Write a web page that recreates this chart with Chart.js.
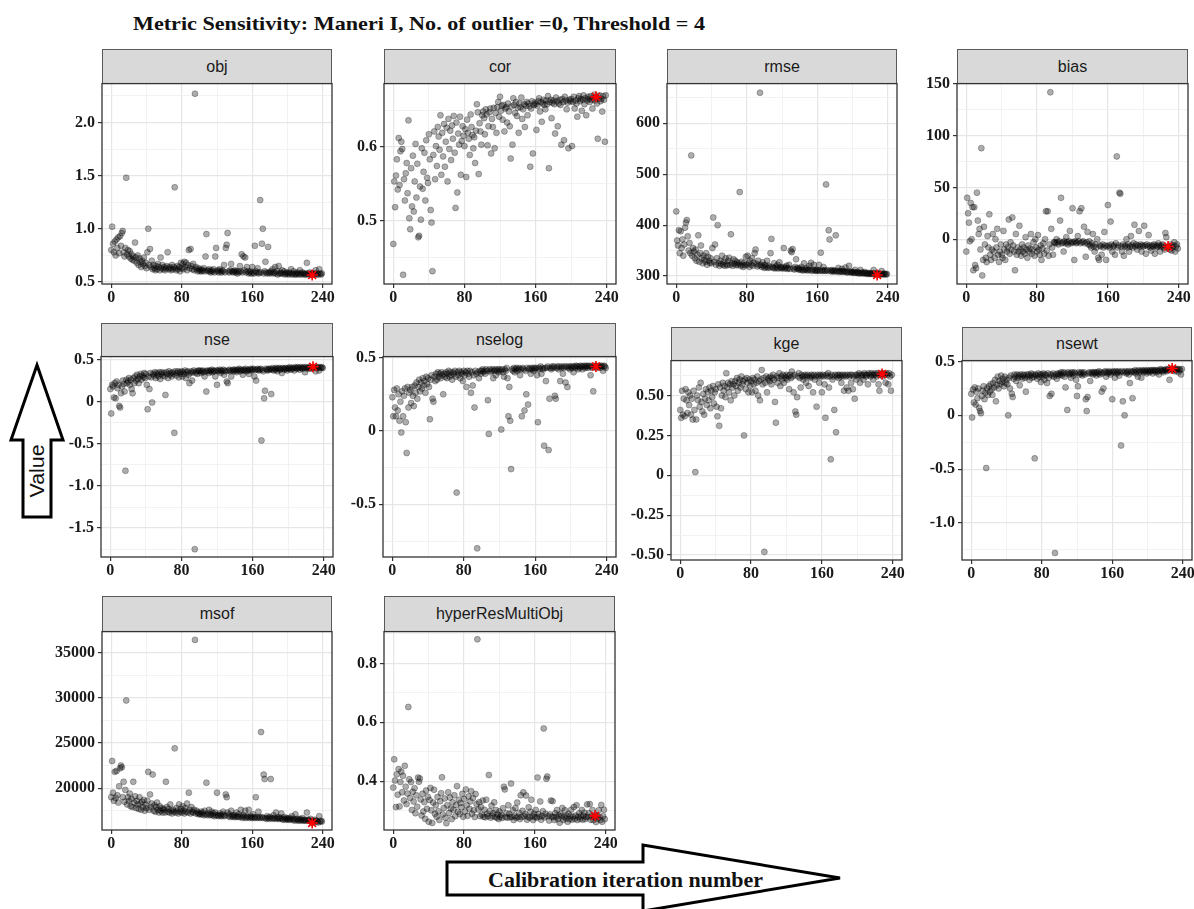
<!DOCTYPE html>
<html>
<head>
<meta charset="utf-8">
<title>Metric Sensitivity</title>
<script src="https://cdn.jsdelivr.net/npm/chart.js@4.4.1/dist/chart.umd.min.js"></script>
<style>
  body { margin: 0; background: #fff; }
  #page { position: relative; width: 1194px; height: 909px; overflow: hidden; }
  .strip {
    position: absolute; box-sizing: border-box;
    background: #d9d9d9; border: 1px solid #595959;
    font: 16px "Liberation Sans", Arial, sans-serif; color: #1a1a1a;
    display: flex; align-items: center; justify-content: center;
  }
  canvas.panel { position: absolute; }
  svg { position: absolute; left: 0; top: 0; }
</style>
</head>
<body>
<div id="page">
  <svg width="1194" height="909">
    <text x="133" y="30" font-family="Liberation Serif, serif" font-weight="bold" font-size="19"
          textLength="572" lengthAdjust="spacingAndGlyphs" fill="#111">Metric Sensitivity: Maneri I, No. of outlier =0, Threshold = 4</text>
    <polygon points="37,365 63,440 51,440 51,517 23,517 23,440 11,440"
             fill="#fff" stroke="#000" stroke-width="3" stroke-linejoin="miter"/>
    <text x="0" y="0" transform="translate(44,471) rotate(-90)" text-anchor="middle"
          font-family="Liberation Sans, Arial, sans-serif" font-size="21" textLength="53"
          lengthAdjust="spacingAndGlyphs" fill="#111">Value</text>
    <polygon points="447,862 643,862 643,845 840,878 643,911 643,895 447,895"
             fill="#fff" stroke="#000" stroke-width="3" stroke-linejoin="miter"/>
    <text x="488" y="887" font-family="Liberation Serif, serif" font-weight="bold" font-size="20"
          textLength="275" lengthAdjust="spacingAndGlyphs" fill="#111">Calibration iteration number</text>
  </svg>
</div>
<script>
// iteration with the best objective (red star)
const bestIter = 228;

const objValues = [
  0.80, 1.02, 0.86, 0.78, 0.88, 0.75, 0.90, 0.82, 0.92, 0.77, 0.93, 0.84, 0.96, 0.98, 0.78, 0.74, 0.82, 1.48, 0.76, 0.80,
  0.74, 0.79, 0.72, 0.76, 0.71, 0.74, 0.70, 0.87, 0.73, 0.68, 0.75, 0.66, 0.72, 0.69, 0.64, 0.70, 0.67, 0.73, 0.65, 0.68,
  0.63, 0.78, 1.00, 0.66, 0.81, 0.64, 0.70, 0.62, 0.66, 0.63, 0.61, 0.65, 0.62, 0.67, 0.64, 0.61, 0.73, 0.63, 0.66, 0.62,
  0.64, 0.61, 0.63, 0.65, 0.78, 0.62, 0.64, 0.63, 0.61, 0.66, 0.62, 0.64, 1.39, 0.63, 0.61, 0.65, 0.62, 0.64, 0.60, 0.68,
  0.63, 0.67, 0.62, 0.69, 0.64, 0.68, 0.61, 0.66, 0.80, 0.63, 0.81, 0.65, 0.62, 0.67, 0.61, 2.27, 0.64, 0.62, 0.60, 0.63,
  0.61, 0.60, 0.62, 0.60, 0.61, 0.63, 0.60, 0.74, 0.95, 0.61, 0.60, 0.62, 0.60, 0.59, 0.61, 0.60, 0.62, 0.59, 0.74, 0.82,
  0.60, 0.61, 0.59, 0.62, 0.60, 0.59, 0.61, 0.60, 0.66, 0.59, 0.82, 0.85, 0.96, 0.60, 0.59, 0.61, 0.67, 0.60, 0.59, 0.60,
  0.61, 0.59, 0.60, 0.58, 0.60, 0.59, 0.65, 0.60, 0.76, 0.59, 0.74, 0.61, 0.73, 0.59, 0.64, 0.60, 0.58, 0.59, 0.60, 0.58,
  0.64, 0.59, 0.58, 0.84, 0.60, 0.59, 0.63, 0.58, 0.59, 1.27, 0.59, 0.86, 1.00, 0.58, 0.60, 0.69, 0.59, 0.58, 0.83, 0.59,
  0.58, 0.60, 0.59, 0.62, 0.58, 0.59, 0.64, 0.58, 0.60, 0.57, 0.65, 0.58, 0.59, 0.58, 0.61, 0.58, 0.60, 0.57, 0.58, 0.59,
  0.58, 0.57, 0.59, 0.58, 0.62, 0.57, 0.58, 0.60, 0.57, 0.58, 0.57, 0.59, 0.58, 0.57, 0.61, 0.58, 0.57, 0.59, 0.58, 0.57,
  0.58, 0.57, 0.68, 0.58, 0.57, 0.59, 0.57, 0.58, 0.565, 0.58, 0.57, 0.58, 0.61, 0.57, 0.58, 0.57, 0.62, 0.58, 0.57, 0.58
];

const corValues = [
  0.468, 0.553, 0.518, 0.561, 0.583, 0.542, 0.612, 0.548, 0.594, 0.607, 0.597, 0.426, 0.556, 0.527, 0.564, 0.578, 0.537, 0.636, 0.503, 0.488,
  0.571, 0.519, 0.588, 0.512, 0.553, 0.604, 0.531, 0.577, 0.477, 0.479, 0.546, 0.501, 0.598, 0.543, 0.566, 0.592, 0.527, 0.609, 0.558, 0.551,
  0.617, 0.583, 0.514, 0.497, 0.431, 0.589, 0.621, 0.556, 0.601, 0.574, 0.627, 0.614, 0.596, 0.643, 0.562, 0.619, 0.587, 0.631, 0.573, 0.607,
  0.626, 0.553, 0.638, 0.597, 0.622, 0.582, 0.629, 0.611, 0.642, 0.592, 0.517, 0.633, 0.538, 0.618, 0.603, 0.641, 0.562, 0.608, 0.628, 0.615,
  0.601, 0.624, 0.559, 0.637, 0.619, 0.611, 0.589, 0.644, 0.627, 0.616, 0.598, 0.613, 0.578, 0.622, 0.658, 0.647, 0.563, 0.632, 0.621, 0.603,
  0.643, 0.648, 0.639, 0.617, 0.651, 0.644, 0.602, 0.628, 0.647, 0.652, 0.591, 0.638, 0.627, 0.653, 0.598, 0.646, 0.619, 0.654, 0.661, 0.641,
  0.668, 0.649, 0.656, 0.637, 0.657, 0.621, 0.652, 0.654, 0.633, 0.659, 0.648, 0.628, 0.584, 0.655, 0.603, 0.666, 0.657, 0.646, 0.661, 0.642,
  0.653, 0.619, 0.659, 0.654, 0.667, 0.638, 0.651, 0.658, 0.627, 0.656, 0.661, 0.643, 0.659, 0.655, 0.573, 0.652, 0.662, 0.591, 0.657, 0.660,
  0.658, 0.623, 0.656, 0.662, 0.666, 0.648, 0.661, 0.634, 0.659, 0.664, 0.657, 0.651, 0.663, 0.658, 0.669, 0.571, 0.661, 0.664, 0.639, 0.660,
  0.663, 0.658, 0.618, 0.667, 0.662, 0.628, 0.659, 0.664, 0.657, 0.603, 0.665, 0.661, 0.609, 0.668, 0.663, 0.651, 0.660, 0.598, 0.664, 0.662,
  0.665, 0.601, 0.661, 0.668, 0.652, 0.663, 0.659, 0.641, 0.666, 0.669, 0.662, 0.665, 0.649, 0.664, 0.670, 0.658, 0.666, 0.643, 0.663, 0.668,
  0.665, 0.661, 0.669, 0.664, 0.652, 0.666, 0.671, 0.663, 0.668, 0.659, 0.611, 0.666, 0.670, 0.662, 0.665, 0.648, 0.669, 0.664, 0.607, 0.670
];

const rmseValues = [
  427, 370, 360, 390, 345, 388, 355, 372, 340, 362, 395, 405, 410, 378, 350, 365, 345, 537, 340, 355,
  348, 335, 352, 330, 342, 380, 328, 345, 360, 335, 325, 340, 332, 328, 345, 322, 338, 330, 326, 335,
  325, 355, 415, 328, 362, 322, 335, 400, 325, 320, 330, 324, 340, 322, 328, 320, 335, 323, 321, 330,
  336, 322, 382, 325, 320, 333, 324, 330, 321, 327, 322, 325, 465, 320, 328, 322, 318, 326, 321, 338,
  322, 340, 325, 318, 330, 322, 335, 320, 326, 345, 352, 324, 319, 330, 321, 660, 322, 318, 327, 320,
  316, 322, 318, 330, 316, 320, 317, 345, 373, 318, 316, 325, 315, 319, 316, 322, 315, 327, 318, 316,
  315, 318, 355, 315, 317, 320, 314, 316, 322, 314, 350, 347, 353, 315, 313, 318, 333, 314, 316, 313,
  315, 312, 318, 313, 311, 325, 313, 312, 316, 311, 313, 320, 312, 326, 310, 313, 322, 311, 312, 310,
  312, 311, 322, 310, 346, 312, 310, 318, 311, 310, 480, 312, 310, 390, 372, 311, 309, 312, 310, 309,
  311, 380, 309, 310, 316, 308, 310, 309, 314, 308, 310, 309, 317, 308, 307, 309, 320, 308, 307, 309,
  307, 308, 306, 312, 307, 306, 308, 306, 305, 312, 306, 307, 305, 306, 308, 305, 306, 304, 306, 305,
  304, 306, 305, 304, 312, 305, 304, 306, 302, 304, 305, 303, 304, 310, 304, 303, 305, 304, 303, 304
];

const biasValues = [
  -12, 40, 25, 16, -2, 35, 0, 31, -30, 31, -25, -28, 45, 18, 5, 10, -10, 88, -35, -20,
  12, -5, -18, -22, 3, -8, 24, -15, -20, -10, 5, -12, -18, 0, -8, 10, -15, -22, -12, -5,
  -15, -18, 8, -10, -20, -5, -12, -8, 19, -14, -3, -10, 21, -6, -12, -30, 5, -15, -8, -12,
  13, -10, -16, -5, -12, -8, -14, 2, -10, -18, -6, -12, -9, 5, -14, -10, -3, -16, 0, -8,
  -12, 4, -10, -15, -6, -20, -9, -4, -14, 0, 27, -11, 27, -16, -5, 142, 10, -8, -15, -3,
  -3, -4, 0, -3, -5, -2, 18, 40, -4, -3, -12, -2, -4, 2, -3, -5, -2, 8, -4, -3,
  30, -3, -20, -2, -4, -3, 3, -2, 27, -4, 30, -3, -2, 12, -4, -17, -3, 7, -5, -2,
  -6, -8, -4, 5, -7, -12, -5, -8, 0, -18, -20, -6, -7, -15, -5, -8, 7, -6, -20, -7,
  33, -6, -8, 17, -5, -12, -7, -6, -15, -4, 80, -8, -6, 45, 44, -7, -12, -5, -16, -7,
  -6, 0, -8, -5, -12, -7, 3, -6, -8, -4, 14, -7, -5, -10, -6, 8, -7, -5, -12, -6,
  -7, 13, -6, -14, -5, -7, 4, -6, -8, -11, -6, -7, -5, -14, -6, -8, -7, -4, -6, -12,
  -7, -6, -5, -8, -10, 6, 2, -8, -7, -7, -10, -5, -11, -8, -6, -3, -12, -7, -5, -9
];

const nseValues = [
  0.15, -0.14, 0.20, 0.18, 0.05, 0.22, 0.04, 0.24, 0.16, 0.20, -0.05, -0.07, 0.10, 0.18, 0.25, 0.21, 0.12, -0.82, 0.26, 0.22,
  0.24, 0.28, 0.20, 0.26, 0.15, 0.10, 0.28, 0.22, 0.30, 0.25, 0.32, 0.27, 0.22, 0.30, 0.33, 0.26, 0.31, 0.29, 0.34, 0.28,
  0.33, 0.20, -0.09, 0.30, 0.15, 0.34, 0.29, -0.01, 0.33, 0.31, 0.35, 0.28, 0.34, 0.32, 0.30, 0.35, 0.27, 0.33, 0.35, 0.31,
  0.34, 0.30, 0.08, 0.35, 0.33, 0.28, 0.36, 0.32, 0.34, 0.30, 0.35, 0.33, -0.37, 0.36, 0.31, 0.34, 0.36, 0.29, 0.35, 0.33,
  0.36, 0.30, 0.35, 0.33, 0.37, 0.28, 0.35, 0.36, 0.32, 0.22, 0.34, 0.36, 0.25, 0.35, 0.37, -1.75, 0.34, 0.36, 0.33, 0.37,
  0.36, 0.37, 0.34, 0.36, 0.37, 0.35, 0.30, 0.36, 0.12, 0.37, 0.36, 0.34, 0.37, 0.36, 0.38, 0.35, 0.37, 0.36, 0.30, 0.37,
  0.20, 0.37, 0.36, 0.38, 0.34, 0.37, 0.36, 0.38, 0.32, 0.37, 0.36, 0.24, 0.22, 0.37, 0.38, 0.36, 0.30, 0.37, 0.38, 0.36,
  0.38, 0.37, 0.35, 0.38, 0.37, 0.39, 0.36, 0.38, 0.37, 0.32, 0.38, 0.37, 0.39, 0.36, 0.38, 0.37, 0.33, 0.38, 0.39, 0.37,
  0.38, 0.39, 0.30, 0.38, 0.25, 0.38, 0.39, 0.37, 0.38, 0.39, -0.46, 0.38, 0.36, 0.04, 0.13, 0.39, 0.38, 0.37, 0.39, 0.38,
  0.39, 0.09, 0.38, 0.40, 0.37, 0.39, 0.38, 0.40, 0.36, 0.39, 0.40, 0.38, 0.39, 0.34, 0.40, 0.39, 0.38, 0.40, 0.39, 0.37,
  0.40, 0.39, 0.41, 0.38, 0.40, 0.39, 0.40, 0.37, 0.41, 0.40, 0.39, 0.41, 0.40, 0.38, 0.41, 0.40, 0.39, 0.41, 0.40, 0.35,
  0.41, 0.40, 0.39, 0.41, 0.40, 0.41, 0.39, 0.40, 0.415, 0.41, 0.40, 0.36, 0.41, 0.40, 0.41, 0.37, 0.41, 0.40, 0.41, 0.40
];

const nselogValues = [
  0.23, 0.10, 0.28, 0.16, 0.10, 0.29, 0.14, 0.25, 0.07, 0.20, -0.01, 0.27, 0.10, 0.24, 0.29, 0.06, -0.15, 0.30, 0.16, 0.26,
  0.28, 0.19, 0.30, 0.24, 0.17, 0.31, 0.26, 0.33, 0.22, 0.30, 0.35, 0.27, 0.33, 0.29, 0.36, 0.31, 0.34, 0.26, 0.37, 0.32,
  0.36, 0.30, 0.08, 0.35, 0.38, 0.22, 0.20, 0.37, 0.34, 0.39, 0.35, 0.40, 0.37, 0.39, 0.36, 0.40, 0.38, 0.25, 0.39, 0.37,
  0.40, 0.36, 0.39, 0.41, 0.37, 0.40, 0.38, 0.35, 0.40, 0.39, 0.41, 0.37, -0.42, 0.40, 0.38, 0.41, 0.36, 0.40, 0.39, 0.34,
  0.41, 0.38, 0.40, 0.30, 0.41, 0.39, 0.37, 0.41, 0.26, 0.40, 0.31, 0.38, 0.16, 0.41, 0.39, -0.80, 0.40, 0.36, 0.41, 0.39,
  0.41, 0.42, 0.40, 0.41, 0.39, 0.42, 0.41, 0.21, -0.02, 0.42, 0.40, 0.41, 0.42, 0.36, 0.41, 0.42, 0.38, 0.41, 0.42, 0.40,
  0.42, 0.41, 0.01, 0.42, 0.40, 0.37, 0.42, 0.41, 0.43, 0.36, 0.10, 0.30, 0.07, -0.26, 0.42, 0.41, 0.43, 0.40, 0.42, 0.43,
  0.41, 0.42, 0.43, 0.38, 0.42, 0.10, 0.43, 0.42, 0.14, 0.41, 0.25, 0.43, 0.18, 0.42, 0.43, 0.39, 0.42, 0.43, 0.41, 0.43,
  0.42, 0.43, 0.38, 0.06, 0.43, 0.42, 0.44, 0.39, 0.43, 0.42, -0.10, 0.43, 0.34, 0.43, 0.44, -0.13, 0.22, 0.43, 0.42, 0.44,
  0.43, 0.44, 0.24, 0.22, 0.43, 0.44, 0.42, 0.44, 0.34, 0.43, 0.44, 0.39, 0.43, 0.44, 0.33, 0.44, 0.30, 0.43, 0.44, 0.42,
  0.44, 0.43, 0.44, 0.40, 0.44, 0.43, 0.445, 0.44, 0.42, 0.44, 0.43, 0.445, 0.44, 0.42, 0.44, 0.445, 0.43, 0.44, 0.445, 0.43,
  0.44, 0.445, 0.38, 0.44, 0.43, 0.27, 0.445, 0.44, 0.44, 0.43, 0.44, 0.445, 0.44, 0.43, 0.445, 0.44, 0.41, 0.445, 0.44, 0.43
];

const kgeValues = [
  0.41, 0.36, 0.53, 0.38, 0.48, 0.37, 0.54, 0.47, 0.39, 0.52, 0.44, 0.50, 0.38, 0.48, 0.35, 0.53, 0.41, 0.02, 0.35, 0.50,
  0.47, 0.55, 0.43, 0.58, 0.46, 0.40, 0.51, 0.38, 0.48, 0.54, 0.44, 0.52, 0.47, 0.55, 0.42, 0.53, 0.49, 0.56, 0.45, 0.52,
  0.54, 0.43, 0.37, 0.57, 0.31, 0.55, 0.42, 0.50, 0.58, 0.53, 0.56, 0.49, 0.64, 0.55, 0.58, 0.52, 0.57, 0.47, 0.59, 0.55,
  0.57, 0.50, 0.59, 0.56, 0.61, 0.53, 0.58, 0.60, 0.55, 0.62, 0.57, 0.59, 0.25, 0.60, 0.54, 0.61, 0.58, 0.52, 0.60, 0.56,
  0.59, 0.52, 0.61, 0.57, 0.60, 0.53, 0.58, 0.62, 0.50, 0.59, 0.47, 0.60, 0.66, 0.57, 0.61, -0.48, 0.58, 0.62, 0.52, 0.60,
  0.61, 0.59, 0.62, 0.57, 0.61, 0.63, 0.60, 0.46, 0.33, 0.62, 0.58, 0.61, 0.64, 0.56, 0.62, 0.60, 0.63, 0.58, 0.62, 0.61,
  0.63, 0.60, 0.62, 0.54, 0.63, 0.61, 0.65, 0.62, 0.52, 0.63, 0.40, 0.38, 0.49, 0.62, 0.64, 0.61, 0.55, 0.63, 0.62, 0.60,
  0.62, 0.63, 0.58, 0.62, 0.63, 0.56, 0.62, 0.61, 0.63, 0.62, 0.52, 0.63, 0.60, 0.62, 0.43, 0.63, 0.62, 0.58, 0.63, 0.62,
  0.52, 0.63, 0.62, 0.57, 0.36, 0.63, 0.62, 0.64, 0.55, 0.62, 0.10, 0.63, 0.60, 0.62, 0.41, 0.63, 0.27, 0.62, 0.63, 0.61,
  0.63, 0.62, 0.58, 0.63, 0.62, 0.53, 0.63, 0.62, 0.55, 0.63, 0.53, 0.62, 0.63, 0.58, 0.63, 0.54, 0.62, 0.48, 0.63, 0.60,
  0.63, 0.62, 0.64, 0.58, 0.63, 0.62, 0.63, 0.60, 0.64, 0.63, 0.62, 0.63, 0.57, 0.64, 0.63, 0.62, 0.64, 0.63, 0.60, 0.63,
  0.64, 0.63, 0.62, 0.64, 0.57, 0.53, 0.63, 0.64, 0.635, 0.62, 0.64, 0.63, 0.58, 0.64, 0.63, 0.57, 0.64, 0.62, 0.53, 0.63
];

const nsewtValues = [
  0.20, -0.02, 0.24, 0.12, 0.26, 0.10, 0.22, 0.16, 0.25, 0.07, 0.04, 0.02, 0.18, 0.23, 0.27, 0.15, 0.21, -0.49, 0.25, 0.19,
  0.27, 0.22, 0.29, 0.24, 0.19, 0.30, 0.26, 0.33, 0.13, 0.28, 0.36, 0.25, 0.32, 0.29, 0.37, 0.31, 0.34, 0.27, 0.36, 0.30,
  0.33, 0.29, 0.00, 0.35, 0.25, 0.37, 0.20, 0.17, 0.34, 0.38, 0.36, 0.32, 0.38, 0.35, 0.37, 0.28, 0.38, 0.36, 0.34, 0.38,
  0.37, 0.35, 0.22, 0.38, 0.36, 0.38, 0.33, 0.37, 0.39, 0.35, 0.38, 0.36, -0.40, 0.38, 0.37, 0.34, 0.39, 0.36, 0.38, 0.31,
  0.38, 0.36, 0.39, 0.33, 0.38, 0.37, 0.30, 0.39, 0.35, 0.18, 0.38, 0.20, 0.37, 0.39, 0.36, -1.28, 0.38, 0.34, 0.39, 0.37,
  0.39, 0.38, 0.40, 0.37, 0.39, 0.40, 0.36, 0.26, 0.39, 0.05, 0.40, 0.38, 0.39, 0.35, 0.40, 0.39, 0.37, 0.40, 0.39, 0.33,
  0.18, 0.27, 0.40, 0.38, 0.39, 0.40, 0.37, 0.39, 0.40, 0.38, 0.15, 0.04, 0.17, 0.39, 0.40, 0.32, 0.39, 0.40, 0.38, 0.40,
  0.39, 0.40, 0.37, 0.40, 0.39, 0.41, 0.38, 0.40, 0.22, 0.39, 0.25, 0.40, 0.41, 0.36, 0.40, 0.39, 0.41, 0.40, 0.38, 0.40,
  0.15, 0.41, 0.40, 0.35, 0.41, 0.39, 0.40, 0.41, 0.37, 0.40, -0.28, 0.41, 0.13, 0.40, 0.00, 0.41, 0.39, 0.40, 0.41, 0.38,
  0.30, 0.41, 0.40, 0.16, 0.41, 0.40, 0.42, 0.39, 0.41, 0.36, 0.42, 0.40, 0.41, 0.35, 0.42, 0.41, 0.40, 0.42, 0.41, 0.39,
  0.42, 0.41, 0.40, 0.42, 0.41, 0.42, 0.39, 0.42, 0.41, 0.42, 0.40, 0.42, 0.41, 0.38, 0.42, 0.43, 0.41, 0.42, 0.40, 0.42,
  0.42, 0.43, 0.41, 0.42, 0.43, 0.33, 0.42, 0.43, 0.435, 0.42, 0.43, 0.41, 0.43, 0.42, 0.43, 0.40, 0.43, 0.42, 0.38, 0.43
];

const msofValues = [
  19000, 23000, 19500, 18600, 21800, 18900, 21900, 19200, 18400, 20200, 22200, 22500, 22300, 19000, 20700, 18500, 19800, 29700, 18200, 19000,
  18600, 19400, 18000, 18800, 17900, 20700, 18400, 19100, 17800, 18600, 18200, 17700, 19000, 18300, 17600, 18500, 17900, 18700, 17500, 18200,
  17800, 18600, 21800, 17600, 19300, 17900, 18300, 21500, 17500, 18100, 17400, 17900, 18400, 17600, 17300, 18000, 17500, 17800, 17300, 17700,
  17600, 17300, 20700, 17900, 17400, 17700, 17300, 18200, 17500, 17200, 17600, 17400, 24400, 17300, 17800, 17500, 17200, 18200, 17400, 17700,
  17300, 18000, 17500, 17200, 17800, 17400, 18300, 17300, 19500, 17600, 17200, 17900, 17400, 17300, 17600, 36400, 17200, 17500, 17300, 17100,
  17200, 17100, 17400, 17100, 17300, 17000, 17500, 17100, 20600, 17000, 17200, 17600, 17000, 17100, 17400, 17000, 17200, 16900, 17300, 17000,
  19500, 17000, 16900, 17200, 17000, 16900, 17100, 17400, 16900, 17000, 19300, 19000, 17300, 16900, 17100, 16800, 17500, 16900, 17000, 16800,
  17000, 16800, 17300, 16900, 16800, 17100, 16800, 17600, 16900, 16700, 17000, 16800, 17500, 16700, 16900, 16800, 17600, 16700, 16900, 16800,
  16700, 17100, 16800, 16700, 19000, 16800, 16700, 17400, 16800, 16700, 26200, 16800, 16700, 21500, 21000, 16700, 16600, 16900, 16700, 16600,
  16800, 21000, 16700, 16600, 17000, 16700, 16600, 17300, 16700, 16600, 16800, 16600, 16700, 17200, 16600, 16500, 16800, 16600, 16500, 16700,
  16600, 16500, 16700, 16500, 16600, 16900, 16500, 16600, 16400, 17100, 16500, 16600, 16400, 16500, 16600, 16400, 16500, 16700, 16400, 16500,
  16400, 16500, 17300, 16400, 16500, 16400, 16600, 16300, 16140, 16400, 16300, 16500, 16300, 16400, 16300, 16200, 16900, 16300, 16400, 16300
];

const hyperValues = [
  0.378, 0.474, 0.402, 0.312, 0.423, 0.354, 0.441, 0.314, 0.397, 0.432, 0.362, 0.418, 0.334, 0.452, 0.381, 0.322, 0.358, 0.652, 0.406, 0.343,
  0.397, 0.302, 0.364, 0.331, 0.376, 0.291, 0.352, 0.313, 0.412, 0.398, 0.409, 0.338, 0.283, 0.357, 0.297, 0.329, 0.272, 0.368, 0.306, 0.347,
  0.262, 0.336, 0.377, 0.301, 0.258, 0.327, 0.371, 0.289, 0.318, 0.279, 0.346, 0.298, 0.268, 0.332, 0.359, 0.413, 0.287, 0.309, 0.341, 0.276,
  0.257, 0.318, 0.362, 0.292, 0.344, 0.307, 0.271, 0.328, 0.303, 0.352, 0.281, 0.319, 0.383, 0.296, 0.337, 0.288, 0.326, 0.311, 0.357, 0.279,
  0.339, 0.297, 0.372, 0.318, 0.282, 0.348, 0.306, 0.331, 0.366, 0.289, 0.343, 0.301, 0.278, 0.356, 0.322, 0.882, 0.304, 0.328, 0.281, 0.312,
  0.286, 0.334, 0.279, 0.303, 0.277, 0.337, 0.289, 0.281, 0.421, 0.298, 0.276, 0.317, 0.282, 0.291, 0.328, 0.278, 0.302, 0.276, 0.287, 0.271,
  0.297, 0.279, 0.286, 0.275, 0.308, 0.381, 0.372, 0.278, 0.291, 0.276, 0.318, 0.288, 0.277, 0.392, 0.279, 0.301, 0.268, 0.281, 0.309, 0.276,
  0.327, 0.279, 0.292, 0.271, 0.352, 0.278, 0.299, 0.362, 0.281, 0.288, 0.351, 0.269, 0.279, 0.311, 0.276, 0.296, 0.337, 0.281, 0.268, 0.289,
  0.278, 0.302, 0.276, 0.412, 0.288, 0.279, 0.331, 0.269, 0.281, 0.298, 0.579, 0.277, 0.289, 0.408, 0.416, 0.281, 0.266, 0.287, 0.334, 0.279,
  0.332, 0.278, 0.268, 0.291, 0.279, 0.302, 0.271, 0.283, 0.259, 0.288, 0.281, 0.309, 0.268, 0.279, 0.301, 0.273, 0.282, 0.262, 0.289, 0.271,
  0.281, 0.303, 0.269, 0.279, 0.312, 0.272, 0.283, 0.318, 0.268, 0.279, 0.291, 0.272, 0.281, 0.302, 0.269, 0.282, 0.293, 0.271, 0.278, 0.321,
  0.279, 0.291, 0.322, 0.269, 0.281, 0.302, 0.268, 0.279, 0.282, 0.261, 0.284, 0.272, 0.301, 0.279, 0.268, 0.319, 0.262, 0.281, 0.303, 0.271
];

// facet names and x-axis tick labels
const metricNames = ['obj', 'cor', 'rmse', 'bias', 'nse', 'nselog', 'kge', 'nsewt', 'msof', 'hyperResMultiObj'];
const metricValues = [objValues, corValues, rmseValues, biasValues, nseValues, nselogValues,
                      kgeValues, nsewtValues, msofValues, hyperValues];
const xTickLabels = [0, 80, 160, 240];

// panel boxes in page pixels + y scale settings
const panelLayout = [
  { left: 102, right: 332, stripTop: 49,  top: 83,  bottom: 284, min: 0.481,  max: 2.365, step: 0.25,  major: 0.5,  digits: 1 },
  { left: 384, right: 616, stripTop: 49,  top: 83,  bottom: 284, min: 0.4135, max: 0.686, step: 0.05,  major: 0.1,  digits: 1 },
  { left: 667, right: 897, stripTop: 49,  top: 83,  bottom: 284, min: 284.4,  max: 678,   step: 50,    major: 100,  digits: 0 },
  { left: 957, right: 1188, stripTop: 49, top: 83,  bottom: 284, min: -43.3,  max: 150.4, step: 25,    major: 50,   digits: 0 },
  { left: 101, right: 333, stripTop: 323, top: 356, bottom: 557, min: -1.843, max: 0.535, step: 0.25,  major: 0.5,  digits: 1 },
  { left: 383, right: 616, stripTop: 323, top: 356, bottom: 557, min: -0.859, max: 0.507, step: 0.25,  major: 0.5,  digits: 1 },
  { left: 671, right: 902, stripTop: 327, top: 360, bottom: 560, min: -0.531, max: 0.719, step: 0.125, major: 0.25, digits: 2 },
  { left: 962, right: 1192, stripTop: 327, top: 360, bottom: 560, min: -1.345, max: 0.509, step: 0.25, major: 0.5,  digits: 1 },
  { left: 102, right: 332, stripTop: 596, top: 631, bottom: 830, min: 15368,  max: 37316, step: 2500,  major: 5000, digits: 0 },
  { left: 384, right: 615, stripTop: 596, top: 631, bottom: 830, min: 0.234,  max: 0.908, step: 0.1,   major: 0.2,  digits: 1 }
];

const AXIS_W = 70, AXIS_H = 28, PAD_TOP = 12, PAD_RIGHT = 16;
const tickFont = { family: "'Liberation Serif', serif", weight: 'bold', size: 16 };

function isMajor(v, major) {
  const r = v / major;
  return Math.abs(r - Math.round(r)) < 1e-6;
}

function fmt(v, digits) {
  if (Math.abs(v) < 1e-9) return '0';
  return digits ? v.toFixed(digits) : String(Math.round(v));
}

// ticks at every multiple of step inside [min, max]
function stepTicks(min, max, step) {
  const out = [];
  for (let n = Math.ceil(min / step - 1e-9); n * step <= max + 1e-9; n++) {
    out.push({ value: +(n * step).toFixed(6) });
  }
  return out;
}

const panelBox = {
  id: 'panelBox',
  afterDraw(chart) {
    const { ctx, chartArea: a } = chart;
    ctx.save();
    ctx.strokeStyle = '#333';
    ctx.lineWidth = 1.3;
    ctx.strokeRect(a.left, a.top, a.right - a.left, a.bottom - a.top);
    ctx.restore();
  }
};

const page = document.getElementById('page');

metricNames.forEach((name, k) => {
  const L = panelLayout[k];
  const values = metricValues[k];
  const w = L.right - L.left;
  const h = L.bottom - L.top;

  const strip = document.createElement('div');
  strip.className = 'strip';
  strip.style.left = L.left + 'px';
  strip.style.top = L.stripTop + 'px';
  strip.style.width = w + 'px';
  strip.style.height = (L.top - L.stripTop + 1) + 'px';
  strip.textContent = name;
  page.appendChild(strip);

  const canvas = document.createElement('canvas');
  canvas.className = 'panel';
  canvas.width = w + AXIS_W + PAD_RIGHT;
  canvas.height = h + PAD_TOP + AXIS_H;
  canvas.style.left = (L.left - AXIS_W) + 'px';
  canvas.style.top = (L.top - PAD_TOP) + 'px';
  page.appendChild(canvas);

  new Chart(canvas.getContext('2d'), {
    type: 'scatter',
    data: {
      datasets: [
        {
          data: [{ x: bestIter, y: values[bestIter] }],
          pointStyle: 'star',
          pointRadius: 5.5,
          pointBorderColor: '#ff0000',
          pointBackgroundColor: '#ff0000',
          pointBorderWidth: 1.6
        },
        {
          data: values.map((v, i) => ({ x: i, y: v })),
          pointRadius: 3,
          pointBackgroundColor: 'rgba(0,0,0,0.32)',
          pointBorderColor: 'rgba(0,0,0,0.35)',
          pointBorderWidth: 0.8
        }
      ]
    },
    options: {
      responsive: false,
      animation: false,
      devicePixelRatio: 1,
      events: [],
      layout: { padding: { top: PAD_TOP, right: PAD_RIGHT, left: 0, bottom: 0 } },
      plugins: { legend: { display: false }, tooltip: { enabled: false }, title: { display: false } },
      scales: {
        x: {
          type: 'linear',
          min: -10.5,
          max: 250.5,
          border: { display: false },
          afterFit(scale) { scale.height = AXIS_H; },
          afterBuildTicks(scale) { scale.ticks = stepTicks(0, 240, 40); },
          grid: {
            color: ctx => isMajor(ctx.tick.value, 80) ? '#e6e6e6' : '#efefef',
            lineWidth: ctx => isMajor(ctx.tick.value, 80) ? 1.2 : 0.8,
            tickColor: ctx => isMajor(ctx.tick.value, 80) ? '#333' : 'rgba(0,0,0,0)',
            tickLength: 4
          },
          ticks: {
            autoSkip: false,
            maxRotation: 0,
            padding: 0,
            color: '#1a1a1a',
            font: tickFont,
            callback: v => xTickLabels.includes(v) ? String(v) : ''
          }
        },
        y: {
          min: L.min,
          max: L.max,
          border: { display: false },
          afterFit(scale) { scale.width = AXIS_W; },
          afterBuildTicks(scale) { scale.ticks = stepTicks(L.min, L.max, L.step); },
          grid: {
            color: ctx => isMajor(ctx.tick.value, L.major) ? '#e6e6e6' : '#efefef',
            lineWidth: ctx => isMajor(ctx.tick.value, L.major) ? 1.2 : 0.8,
            tickColor: ctx => isMajor(ctx.tick.value, L.major) ? '#333' : 'rgba(0,0,0,0)',
            tickLength: 4
          },
          ticks: {
            autoSkip: false,
            padding: 3,
            color: '#1a1a1a',
            font: tickFont,
            callback: v => isMajor(v, L.major) ? fmt(v, L.digits) : ''
          }
        }
      }
    },
    plugins: [panelBox]
  });
});
</script>
</body>
</html>
